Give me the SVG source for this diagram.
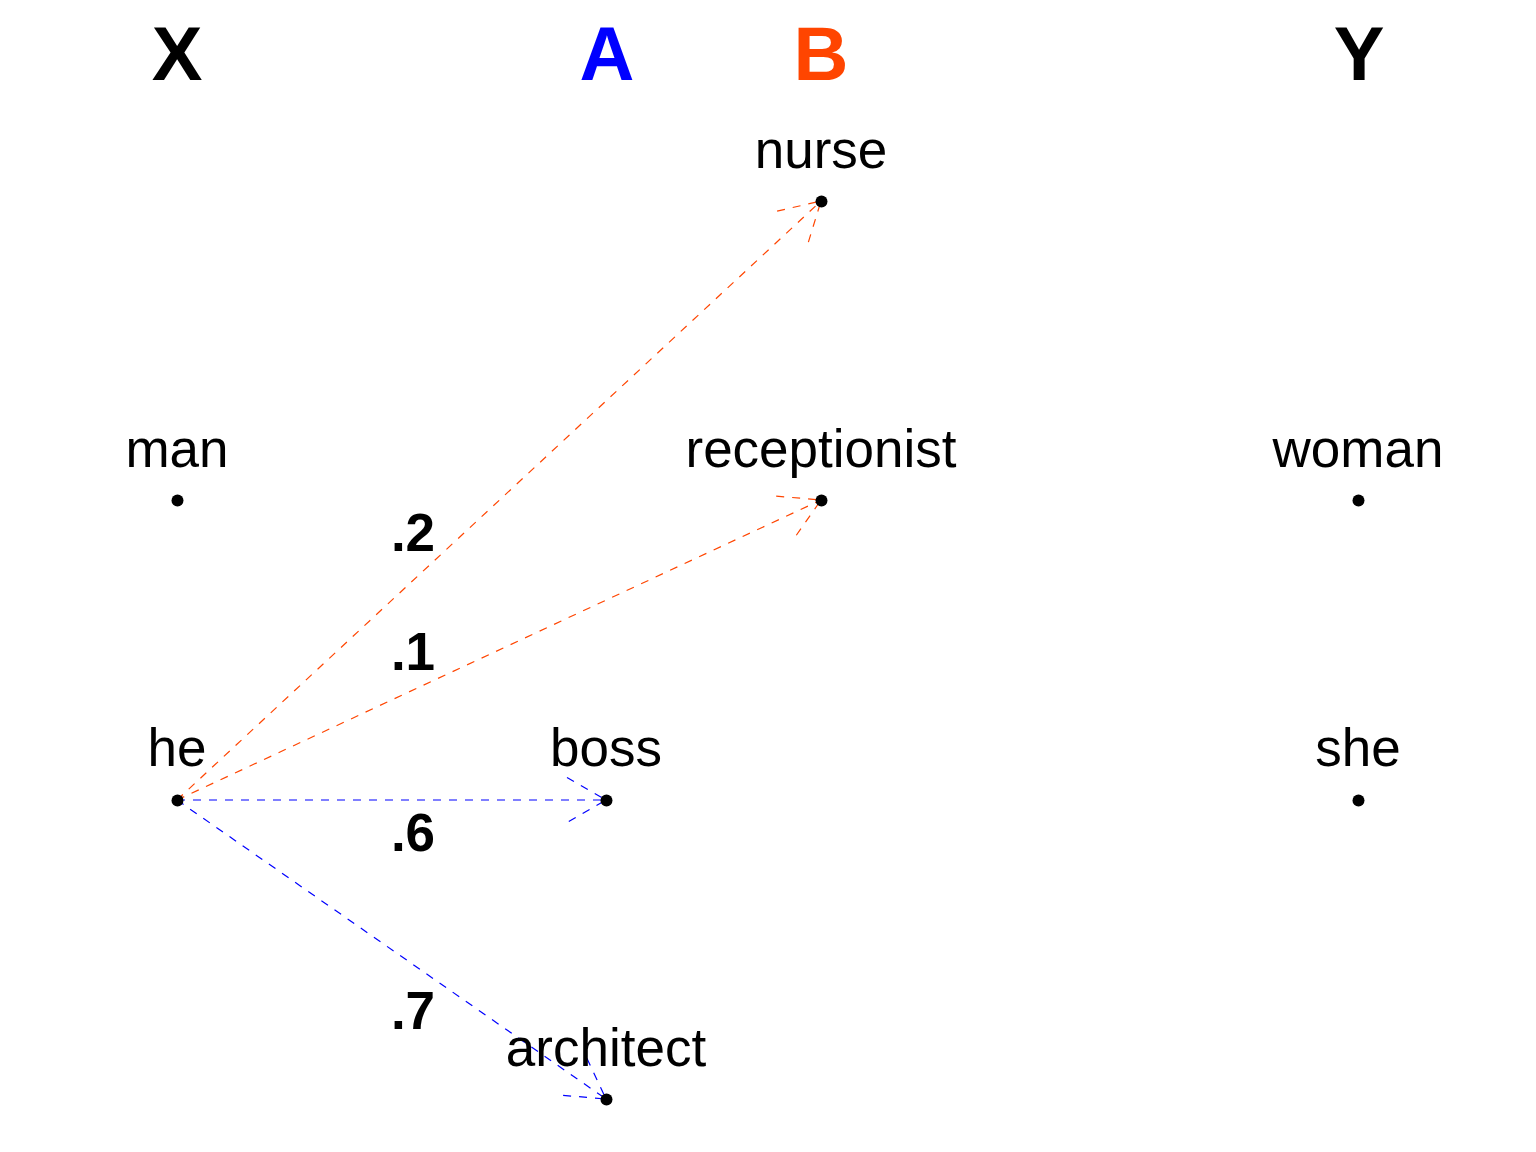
<svg xmlns="http://www.w3.org/2000/svg" width="1536" height="1152" viewBox="0 0 1536 1152">
<style>
.hdr{font-family:"Liberation Sans",Arial,sans-serif;font-weight:bold;font-size:76px;text-anchor:middle}
.lbl{font-family:"Liberation Sans",Arial,sans-serif;font-size:53px;text-anchor:middle;fill:#000}
.num{font-family:"Liberation Sans",Arial,sans-serif;font-weight:bold;font-size:53px;text-anchor:middle;fill:#000}
.dot{fill:#000}
.red{stroke:#FF4500;stroke-width:1.2;fill:none;stroke-dasharray:8 8}
.blue{stroke:#0000FF;stroke-width:1.2;fill:none;stroke-dasharray:8 8}
</style>
<rect width="1536" height="1152" fill="#fff"/>
<g id="headers">
<text class="hdr" x="177" y="80" fill="#000">X</text>
<text class="hdr" x="607" y="80" fill="#0000FF">A</text>
<text class="hdr" x="821" y="80" fill="#FF4500">B</text>
<text class="hdr" x="1359" y="80" fill="#000">Y</text>
</g>
<g id="connectors">
<line class="red" x1="177" y1="800" x2="821" y2="201"/>
<polyline class="red" points="777.1,211.1 821,201 807.8,244"/>
<line class="red" x1="177" y1="800" x2="821" y2="500"/>
<polyline class="red" points="776.2,496.1 821,500 795.2,536.9"/>
<line class="blue" x1="177" y1="800" x2="606" y2="800"/>
<polyline class="blue" points="567,777.5 606,800 567,822.5"/>
<line class="blue" x1="177" y1="800" x2="606" y2="1099"/>
<polyline class="blue" points="586.9,1058.3 606,1099 561.2,1095.2"/>
</g>
<g id="weights">
<text class="num" x="413" y="551">.2</text>
<text class="num" x="413" y="670">.1</text>
<text class="num" x="413" y="851">.6</text>
<text class="num" x="413" y="1029">.7</text>
</g>
<g id="node-nurse"><text class="lbl" x="821" y="168">nurse</text><circle class="dot" cx="821.5" cy="201.5" r="6"/></g>
<g id="node-man"><text class="lbl" x="177" y="467">man</text><circle class="dot" cx="177.5" cy="500.5" r="6"/></g>
<g id="node-receptionist"><text class="lbl" x="821" y="467">receptionist</text><circle class="dot" cx="821.5" cy="500.5" r="6"/></g>
<g id="node-woman"><text class="lbl" x="1358" y="467">woman</text><circle class="dot" cx="1358.5" cy="500.5" r="6"/></g>
<g id="node-he"><text class="lbl" x="177" y="766">he</text><circle class="dot" cx="177.5" cy="800.5" r="6"/></g>
<g id="node-boss"><text class="lbl" x="606" y="766">boss</text><circle class="dot" cx="606.5" cy="800.5" r="6"/></g>
<g id="node-she"><text class="lbl" x="1358" y="766">she</text><circle class="dot" cx="1358.5" cy="800.5" r="6"/></g>
<g id="node-architect"><text class="lbl" x="606" y="1066">architect</text><circle class="dot" cx="606.5" cy="1099.5" r="6"/></g>
</svg>
